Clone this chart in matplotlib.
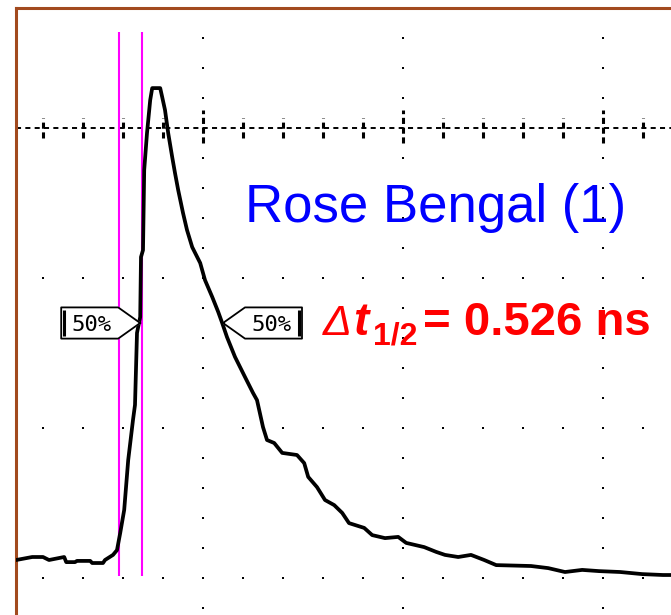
import matplotlib.pyplot as plt
import numpy as np

# trace, in minor divisions (x: time, y: signal)
t_div = [0.33, 0.73, 1.0, 1.15, 1.53, 1.58, 1.8, 1.85, 2.18, 2.23, 2.5, 2.55,
         2.75, 2.85, 2.93, 3.03, 3.13, 3.25, 3.3, 3.35, 3.43, 3.45, 3.5, 3.53,
         3.6, 3.68, 3.73, 3.93, 3.98, 4.05, 4.13, 4.23, 4.3, 4.38, 4.5, 4.6,
         4.73, 4.93, 5.05, 5.23, 5.38, 5.48, 5.6, 5.8, 6.05, 6.25, 6.35, 6.5,
         6.6, 6.78, 6.98, 7.35, 7.53, 7.63, 7.85, 8.05, 8.28, 8.48, 8.65, 9.03,
         9.23, 9.55, 9.88, 10.08, 10.53, 10.83, 11.05, 11.38, 11.7, 12.03, 12.33,
         13.2, 13.63, 14.05, 14.48, 14.9, 15.43, 15.98, 16.5, 16.7]
v_div = [0.6, 0.7, 0.7, 0.6, 0.7, 0.53, 0.53, 0.57, 0.57, 0.5, 0.5, 0.6,
         0.77, 0.93, 1.5, 2.27, 3.93, 5.27, 5.77, 8.17, 8.7, 10.7, 10.93, 13.6,
         14.83, 15.93, 16.33, 16.33, 16.03, 15.6, 14.83, 14.03, 13.5, 12.93, 12.17, 11.6,
         11.03, 10.5, 9.93, 9.37, 8.87, 8.5, 8.03, 7.37, 6.7, 6.17, 5.93, 5.03,
         4.6, 4.5, 4.17, 4.1, 3.83, 3.37, 3.03, 2.6, 2.43, 2.17, 1.83, 1.67,
         1.43, 1.33, 1.37, 1.17, 1.03, 0.87, 0.77, 0.7, 0.77, 0.6, 0.43,
         0.4, 0.33, 0.2, 0.27, 0.23, 0.2, 0.13, 0.1, 0.1]

# cursors (50% crossings) and half-level markers
cursor_x = [2.9, 3.48]
half_left = 3.43
half_right = 5.5
half_level = 8.5

title_text = 'Rose Bengal (1)'
fwhm_value = '= 0.526 ns'

fig = plt.figure(figsize=(6.71, 6.15), dpi=100)
ax = fig.add_axes([16 / 671, 0, 655 / 671, 607 / 615])
ax.set_xlim(0.325, 16.7)
ax.set_ylim(-1.233, 19)
ax.set_xticks([])
ax.set_yticks([])
for s in ['right', 'bottom']:
    ax.spines[s].set_visible(False)
for s in ['left', 'top']:
    ax.spines[s].set_color('#a24a1e')
    ax.spines[s].set_linewidth(2.2)

# graticule: dotted rows / columns
xs = np.arange(1, 17)
for row in [0, 5, 10]:
    ax.plot(xs, np.full(len(xs), row), 's', color='black', markersize=2.0, mew=0)
ys = np.arange(-1, 19)
for col in [5, 10, 15]:
    yy = ys[ys != 15]
    ax.plot(np.full(len(yy), col), yy, 's', color='black', markersize=2.0, mew=0)

# center row: dashed with ticks
ax.axhline(15, color='black', lw=1.4, ls=(0, (2.6, 2.2)))
for x in xs:
    if x % 5 == 0:
        ax.vlines(x, 14.5, 15.6, color='black', lw=2.2, ls=(0, (2.0, 1.2)))
    else:
        ax.vlines(x, 14.67, 15.35, color='black', lw=2.2, ls=(0, (2.0, 1.2)))

# cursors
ax.vlines(cursor_x, 0.07, 18.2, color='#ff00ff', lw=1.5, zorder=3)

# trace
ax.plot(t_div, v_div, color='black', lw=2.7, zorder=4)

# 50% markers
def half_marker(tip, direction):
    box_w = 1.425
    neck = 0.55
    h = 0.52
    inner = tip - direction * neck
    outer = inner - direction * box_w
    px = [tip, inner, outer, outer, inner, tip]
    py = [half_level, half_level + h, half_level + h, half_level - h, half_level - h, half_level]
    ax.fill(px, py, color='white', zorder=5)
    ax.plot(px, py, color='black', lw=1.3, zorder=6)
    ax.vlines(outer + direction * 0.08, half_level - h + 0.08, half_level + h - 0.08,
              color='black', lw=2.2, zorder=6)
    ax.text((inner + outer) / 2 + direction * 0.05, half_level - 0.05, '50%',
            ha='center', va='center', fontsize=16, family='DejaVu Sans Mono',
            zorder=7)

half_marker(half_left, 1)
half_marker(half_right, -1)

# labels
ax.text(6.05, 11.87, title_text, color='#0000ff', fontsize=38,
        family='Liberation Sans', va='baseline', ha='left', zorder=8)
red = dict(color='#ff0000', family='Liberation Sans', va='baseline', ha='left', zorder=8)
ax.text(8.0, 8.1, '\u0394', fontsize=31, style='italic', **red)
ax.text(8.75, 8.1, 't', fontsize=33, style='italic', weight='bold', **red)
ax.text(9.25, 7.77, '1/2', fontsize=23, weight='bold', **red)
ax.text(10.5, 8.1, fwhm_value, fontsize=34, weight='bold', **red)

fig.savefig('out.png', dpi=100)
